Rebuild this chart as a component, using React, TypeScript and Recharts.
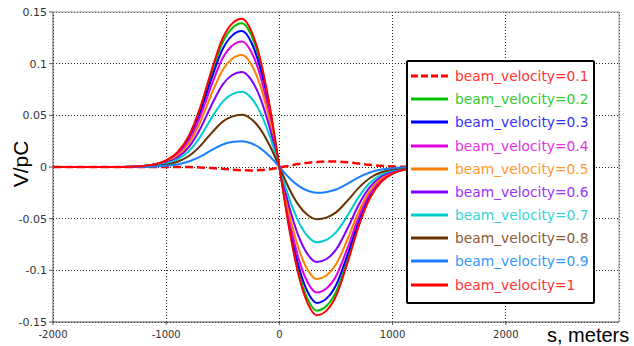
import React from "react";
import {
  LineChart,
  Line,
  XAxis,
  YAxis,
  CartesianGrid,
  ReferenceLine,
  Legend,
} from "recharts";

// s positions (meters) of the sampled points
const positions = [
  -2000, -1600, -1400, -1300, -1200, -1100, -1000, -900, -800, -700, -600, -500,
  -420, -330, -250, -170, -90, 0, 90, 170, 250, 330, 420, 500, 600, 700, 800,
  900, 1000, 1100, 1200, 1300, 1400, 1600, 2000,
];

const velocity01 = [
  0, 0, 0, 0, 0, 0, 0, 0, -0.0001, -0.0004, -0.001, -0.0018, -0.0025, -0.0031,
  -0.0033, -0.003, -0.0022, -0.0004, 0.0012, 0.0028, 0.004, 0.0049, 0.0054,
  0.0053, 0.0046, 0.0034, 0.0021, 0.0011, 0.0005, 0.0002, 0.0001, 0, 0, 0, 0,
];
const velocity02 = [
  0, 0, 0.0001, 0.0003, 0.001, 0.0025, 0.0063, 0.0139, 0.0292, 0.0556, 0.0904,
  0.1209, 0.1341, 0.139, 0.1279, 0.1015, 0.0598, 0, -0.0598, -0.1015, -0.1279,
  -0.139, -0.1341, -0.1209, -0.0904, -0.0556, -0.0292, -0.0139, -0.0063,
  -0.0025, -0.001, -0.0003, -0.0001, 0, 0,
];
const velocity03 = [
  0, 0, 0.0001, 0.0003, 0.0009, 0.0024, 0.0059, 0.0132, 0.0276, 0.0526, 0.0855,
  0.1144, 0.1269, 0.1315, 0.121, 0.096, 0.0565, 0, -0.0565, -0.096, -0.121,
  -0.1315, -0.1269, -0.1144, -0.0855, -0.0526, -0.0276, -0.0132, -0.0059,
  -0.0024, -0.0009, -0.0003, -0.0001, 0, 0,
];
const velocity04 = [
  0, 0, 0.0001, 0.0002, 0.0009, 0.0022, 0.0055, 0.0122, 0.0255, 0.0486, 0.079,
  0.1057, 0.1172, 0.1215, 0.1118, 0.0887, 0.0522, 0, -0.0522, -0.0887, -0.1118,
  -0.1215, -0.1172, -0.1057, -0.079, -0.0486, -0.0255, -0.0122, -0.0055,
  -0.0022, -0.0009, -0.0002, -0.0001, 0, 0,
];
const velocity05 = [
  0, 0, 0.0001, 0.0002, 0.0008, 0.0019, 0.0049, 0.0108, 0.0227, 0.0433, 0.0704,
  0.0942, 0.1045, 0.1083, 0.0996, 0.0791, 0.0466, 0, -0.0466, -0.0791, -0.0996,
  -0.1083, -0.1045, -0.0942, -0.0704, -0.0433, -0.0227, -0.0108, -0.0049,
  -0.0019, -0.0008, -0.0002, -0.0001, 0, 0,
];
const velocity06 = [
  0, 0, 0, 0.0002, 0.0006, 0.0017, 0.0041, 0.0092, 0.0193, 0.0368, 0.0598, 0.08,
  0.0888, 0.092, 0.0846, 0.0672, 0.0396, 0, -0.0396, -0.0672, -0.0846, -0.092,
  -0.0888, -0.08, -0.0598, -0.0368, -0.0193, -0.0092, -0.0041, -0.0017,
  -0.0006, -0.0002, 0, 0, 0,
];
const velocity07 = [
  0, 0, 0, 0.0001, 0.0005, 0.0013, 0.0033, 0.0073, 0.0153, 0.0291, 0.0473,
  0.0633, 0.0703, 0.0728, 0.067, 0.0531, 0.0313, 0, -0.0313, -0.0531, -0.067,
  -0.0728, -0.0703, -0.0633, -0.0473, -0.0291, -0.0153, -0.0073, -0.0033,
  -0.0013, -0.0005, -0.0001, 0, 0, 0,
];
const velocity08 = [
  0, 0, 0, 0.0001, 0.0004, 0.0009, 0.0023, 0.0051, 0.0106, 0.0202, 0.0328,
  0.0439, 0.0487, 0.0505, 0.0465, 0.0369, 0.0217, 0, -0.0217, -0.0369, -0.0465,
  -0.0505, -0.0487, -0.0439, -0.0328, -0.0202, -0.0106, -0.0051, -0.0023,
  -0.0009, -0.0004, -0.0001, 0, 0, 0,
];
const velocity09 = [
  0, 0, 0, 0, 0.0002, 0.0005, 0.0011, 0.0025, 0.0053, 0.01, 0.0163, 0.0218,
  0.0241, 0.025, 0.023, 0.0183, 0.0108, 0, -0.0108, -0.0183, -0.023, -0.025,
  -0.0241, -0.0218, -0.0163, -0.01, -0.0053, -0.0025, -0.0011, -0.0005,
  -0.0002, 0, 0, 0, 0,
];
const velocity10 = [
  0, 0, 0.0001, 0.0003, 0.001, 0.0026, 0.0065, 0.0144, 0.0301, 0.0574, 0.0933,
  0.1248, 0.1385, 0.1435, 0.132, 0.1048, 0.0617, 0, -0.0617, -0.1048, -0.132,
  -0.1435, -0.1385, -0.1248, -0.0933, -0.0574, -0.0301, -0.0144, -0.0065,
  -0.0026, -0.001, -0.0003, -0.0001, 0, 0,
];

const seriesNames = [
  "beam_velocity=0.1",
  "beam_velocity=0.2",
  "beam_velocity=0.3",
  "beam_velocity=0.4",
  "beam_velocity=0.5",
  "beam_velocity=0.6",
  "beam_velocity=0.7",
  "beam_velocity=0.8",
  "beam_velocity=0.9",
  "beam_velocity=1",
];
const lineColors = [
  "#ff0000",
  "#00c000",
  "#0000ff",
  "#e000e0",
  "#ff8000",
  "#8000ff",
  "#00cccc",
  "#663300",
  "#1a7fff",
  "#ff0000",
];
const textColors = [
  "#ff3333",
  "#33cc33",
  "#3333ff",
  "#e633e6",
  "#ff9933",
  "#9933ff",
  "#33d6d6",
  "#8c5a33",
  "#3399ff",
  "#ff3333",
];

const xTicks = [-2000, -1000, 0, 1000, 2000];
const yTicks = [-0.15, -0.1, -0.05, 0, 0.05, 0.1, 0.15];

const seriesValues = [
  velocity01,
  velocity02,
  velocity03,
  velocity04,
  velocity05,
  velocity06,
  velocity07,
  velocity08,
  velocity09,
  velocity10,
];

const chartData = positions.map((s, i) => {
  const row: Record<string, number> = { s };
  seriesValues.forEach((vals, k) => {
    row[`v${k}`] = vals[i];
  });
  return row;
});

const font = "'DejaVu Sans', Verdana, sans-serif";

function LegendBox() {
  return (
    <div
      style={{
        boxSizing: "border-box",
        width: 189,
        height: 244,
        border: "2px solid #000",
        borderRadius: 2,
        background: "#fff",
        paddingTop: 2.4,
        fontFamily: font,
        fontSize: 13.8,
      }}
    >
      {seriesNames.map((name, i) => (
        <div
          key={name}
          style={{
            height: 23.2,
            display: "flex",
            alignItems: "center",
            paddingLeft: 3,
          }}
        >
          <svg width={37} height={6} style={{ marginRight: 7 }}>
            <line
              x1={0}
              y1={3}
              x2={37}
              y2={3}
              stroke={lineColors[i]}
              strokeWidth={3}
              strokeDasharray={i === 0 ? "7 3" : undefined}
            />
          </svg>
          <span style={{ color: textColors[i], whiteSpace: "nowrap" }}>
            {name}
          </span>
        </div>
      ))}
    </div>
  );
}

export default function App() {
  return (
    <div style={{ position: "absolute", left: 0, top: 0, background: "#fff" }}>
      <LineChart
        width={634}
        height={346}
        data={chartData}
        margin={{ top: 12, right: 15, left: 0, bottom: 0 }}
      >
        <CartesianGrid
          stroke="#222"
          strokeDasharray="1 2"
          shapeRendering="crispEdges"
        />
        <XAxis
          dataKey="s"
          type="number"
          domain={[-2000, 3000]}
          ticks={xTicks}
          height={24}
          stroke="#555"
          tickSize={3}
          tickMargin={6}
          tick={{ fontSize: 10, fill: "#333", fontFamily: font }}
          label={{
            content: () => (
              <text
                x={547}
                y={342}
                fontSize={20}
                fontFamily="'Liberation Sans', Arial, sans-serif"
                fill="#000"
              >
                s, meters
              </text>
            ),
          }}
        />
        <YAxis
          type="number"
          domain={[-0.15, 0.15]}
          ticks={yTicks}
          width={53}
          stroke="#555"
          tickSize={4}
          tickMargin={2}
          tick={{ fontSize: 11, fill: "#333", fontFamily: font }}
          label={{
            content: () => (
              <text
                x={20}
                y={164}
                transform="rotate(-90 20 164)"
                textAnchor="middle"
                dominantBaseline="central"
                fontSize={21}
                fontFamily="'Liberation Sans', Arial, sans-serif"
                fill="#000"
              >
                V/pC
              </text>
            ),
          }}
        />
        <ReferenceLine y={0.15} stroke="#999" />
        <ReferenceLine x={3000} stroke="#999" />
        {seriesNames.map((name, i) => (
          <Line
            key={name}
            dataKey={`v${i}`}
            name={name}
            type="monotone"
            stroke={lineColors[i]}
            strokeWidth={i === 0 ? 2.5 : 2}
            strokeDasharray={i === 0 ? "8 4" : undefined}
            dot={false}
            isAnimationActive={false}
          />
        ))}
        <Legend
          layout="vertical"
          align="center"
          verticalAlign="middle"
          wrapperStyle={{ left: 406, top: 60, width: 189, height: 244 }}
          content={() => <LegendBox />}
        />
      </LineChart>
    </div>
  );
}
